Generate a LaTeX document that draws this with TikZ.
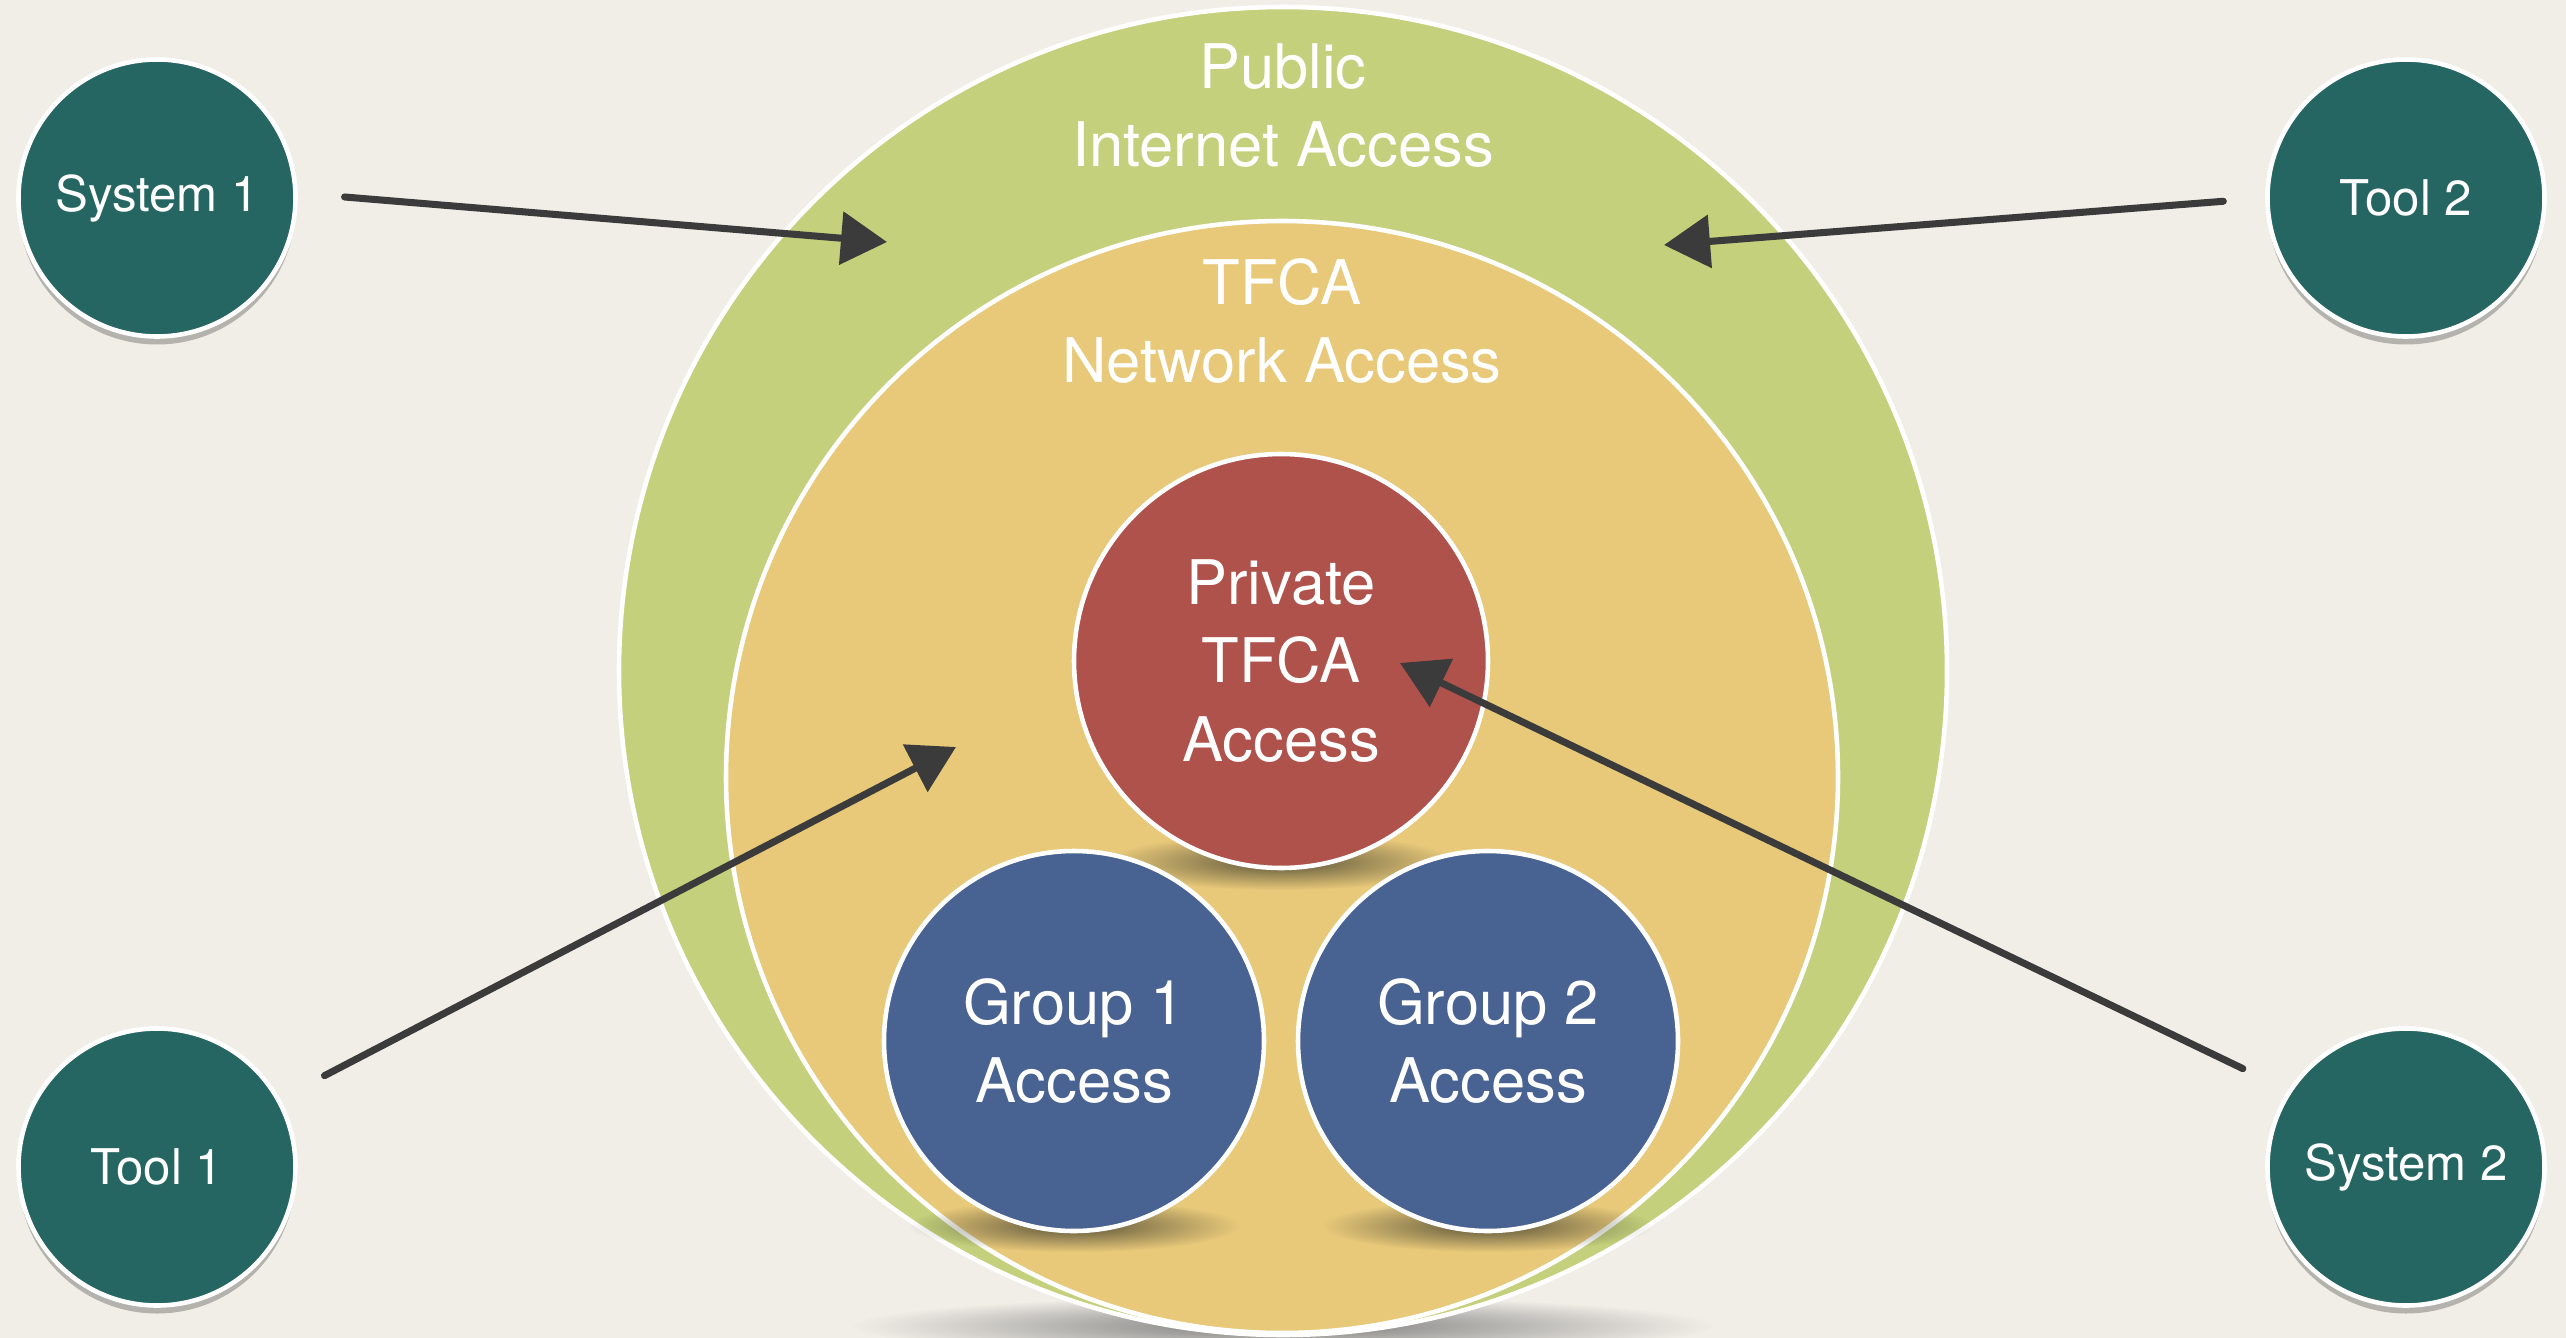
\documentclass[tikz,border=0pt]{standalone}
\usepackage{fontspec}
\setmainfont{TeX Gyre Heros}
\usetikzlibrary{
        arrows.meta,
        fadings,
        positioning,
        shadows
    }
\definecolor{paper}{HTML}{F1EEE8}
\definecolor{publicgreen}{HTML}{C4D07C}
\definecolor{tfcagold}{HTML}{E8C97A}
\definecolor{privred}{HTML}{B0524C}
\definecolor{groupblue}{HTML}{486291}
\definecolor{extteal}{HTML}{266662}
\definecolor{pencil}{HTML}{3B3B3B}
\tikzfading[name=softspot, inner color=transparent!15, outer color=transparent!100]
\tikzset{
    ring/.style={circle, draw=white, line width=1.3pt, inner sep=0pt, text=white,
        align=center, font=\fontsize{17.5}{22.3}\selectfont},
    ringtext/.style={text=white, align=center, inner sep=0pt,
        font=\fontsize{17.5}{22.3}\selectfont},
    outside/.style={ring, fill=extteal, minimum size=2.77cm,
        font=\fontsize{14}{17}\selectfont,
        drop shadow={shadow xshift=0pt, shadow yshift=-0.8mm, opacity=.25, fill=black}},
    softshadow/.style={fill=black!70!olive, path fading=softspot},
    flow/.style={draw=pencil, line width=2pt, line cap=round,
        -{Triangle[length=4.6mm, width=5.2mm]}}
}

\begin{document}
\begin{tikzpicture}[x=0.1mm,y=-0.1mm]
        \fill[paper] (0,0) rectangle (2566,1338);
        \useasboundingbox (0,0) rectangle (2566,1338);

        % rings
        \fill[softshadow, fill=black!60] (1283,1326) ellipse (430 and 30);
        \node[ring, fill=publicgreen, minimum size=13.28cm] (public) at (1283,671) {};
        \node[ring, fill=tfcagold, minimum size=11.12cm] (tfca) at (1282,777) {};
        \node[ringtext] (publictxt) at ([yshift=-1.01cm]public.north) {Public\\Internet Access};
        \node[ringtext] (tfcatxt) at ([yshift=-1.02cm]tfca.north) {TFCA\\Network Access};

        % inner circles
        \fill[softshadow] (1281,862) ellipse (175 and 28);
        \fill[softshadow] (1074,1226) ellipse (165 and 26);
        \fill[softshadow] (1488,1226) ellipse (165 and 26);
        \node[ring, fill=privred, minimum size=4.14cm] (private) at (1281,661) {Private\\TFCA\\Access};
        \node[ring, fill=groupblue, minimum size=3.8cm] (group1) at (1074,1041) {Group 1\\Access};
        \node[ring, fill=groupblue, minimum size=3.8cm] (group2) at (1488,1041) {Group 2\\Access};

        % outside parties
        \node[outside] (sys1) at (157,198) {System 1};
        \node[outside] (tool2) at (2406,198) {Tool 2};
        \node[outside] (tool1) at (157,1167) {Tool 1};
        \node[outside] (sys2) at (2406,1167) {System 2};

        \coordinate (in1) at (887,242);
        \coordinate (in2) at (1664,245);
        \coordinate (in3) at (956,747);
        \coordinate (in4) at (1400,663);
        \path
                (sys1.2) edge[flow, shorten <=4.7mm] (in1)
                (tool2.west) edge[flow, shorten <=4.2mm] (in2)
                (tool1.29) edge[flow, shorten <=5mm] (in3)
                (sys2.147) edge[flow, shorten <=5mm] (in4);
\end{tikzpicture}
\end{document}
